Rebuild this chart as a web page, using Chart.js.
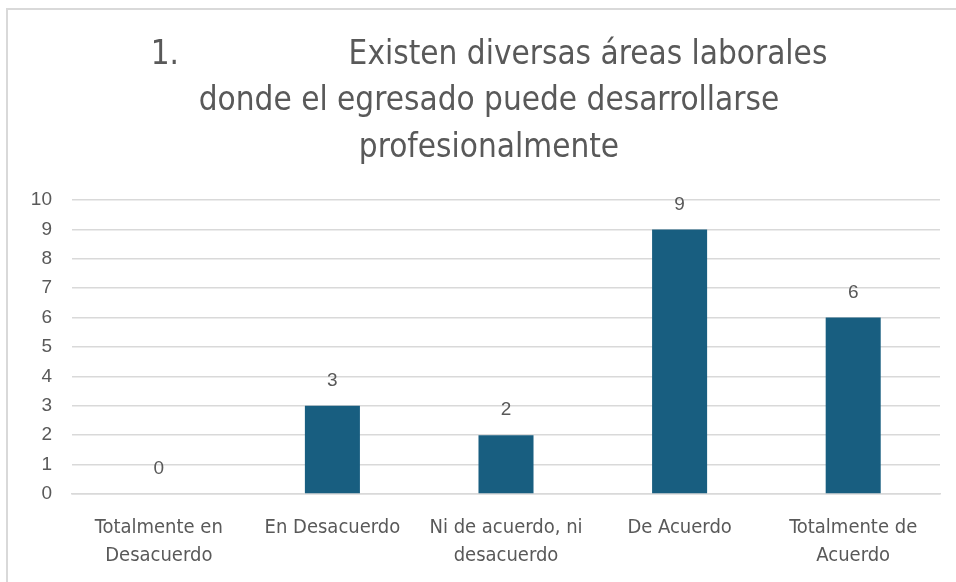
<!DOCTYPE html>
<html>
<head>
<meta charset="utf-8">
<script src="https://cdn.jsdelivr.net/npm/chart.js@4.4.1/dist/chart.umd.min.js"></script>
<style>
  html, body { margin: 0; padding: 0; background: #fff; overflow: hidden; }
  #wrap { position: relative; width: 956px; height: 582px; }
  #frame {
    position: absolute; left: 6px; top: 8px; width: 980px; height: 600px;
    border: 2px solid #d9d9d9; pointer-events: none;
  }
</style>
</head>
<body>
<div id="wrap">
  <canvas id="chart" width="956" height="582"></canvas>
  <div id="frame"></div>
</div>
<script>
// ===== Data =====
const titleLines = [
  "1.                  Existen diversas áreas laborales",
  "donde el egresado puede desarrollarse",
  "profesionalmente",
];
const categories = [
  ["Totalmente en", "Desacuerdo"],
  "En Desacuerdo",
  ["Ni de acuerdo, ni", "desacuerdo"],
  "De Acuerdo",
  ["Totalmente de", "Acuerdo"],
];
const counts = [0, 3, 2, 9, 6];
const yTicks = [0, 1, 2, 3, 4, 5, 6, 7, 8, 9, 10];

const narrow = "'Liberation Sans Narrow', 'Arial Narrow', 'DejaVu Sans Condensed', sans-serif";
const sans = "'Liberation Sans', Arial, sans-serif";
const textGray = "#595959";

// ===== Title (drawn a bit right of canvas centre, like the original) =====
const titleBlock = {
  id: "titleBlock",
  afterDraw(chart) {
    const ctx = chart.ctx;
    ctx.save();
    ctx.font = "33px " + narrow;
    ctx.fillStyle = textGray;
    ctx.textAlign = "center";
    ctx.textBaseline = "middle";
    titleLines.forEach((line, i) => {
      ctx.fillText(line, 489, 55 + i * 46.5);
    });
    ctx.restore();
  },
};

// ===== Value labels above bars =====
const valueLabels = {
  id: "valueLabels",
  afterDatasetsDraw(chart) {
    const ctx = chart.ctx;
    const meta = chart.getDatasetMeta(0);
    ctx.save();
    ctx.font = "19px " + sans;
    ctx.fillStyle = textGray;
    ctx.textAlign = "center";
    ctx.textBaseline = "middle";
    meta.data.forEach((bar, i) => {
      ctx.fillText(String(counts[i]), bar.x, bar.y - 25);
    });
    ctx.restore();
  },
};

new Chart(document.getElementById("chart"), {
  type: "bar",
  data: {
    labels: categories,
    datasets: [
      {
        data: counts,
        backgroundColor: "#185e80",
        categoryPercentage: 1,
        barPercentage: 0.317,
      },
    ],
  },
  options: {
    responsive: false,
    animation: false,
    layout: { padding: { left: 0, right: 16, top: 200, bottom: 0 } },
    plugins: {
      legend: { display: false },
      tooltip: { enabled: false },
      title: { display: false },
    },
    scales: {
      x: {
        grid: { display: false },
        border: { color: "#d9d9d9", width: 1.5 },
        ticks: {
          color: textGray,
          font: { family: narrow, size: 20, lineHeight: 1.4 },
          maxRotation: 0,
          autoSkip: false,
          padding: 12,
        },
        afterFit: (s) => { s.height = 88; },
      },
      y: {
        min: 0,
        max: 10,
        afterBuildTicks: (s) => { s.ticks = yTicks.map((v) => ({ value: v })); },
        grid: { color: "#d9d9d9", lineWidth: 1.5, drawTicks: false },
        border: { display: false },
        ticks: {
          color: textGray,
          font: { family: sans, size: 19 },
          padding: 20,
        },
        afterFit: (s) => { s.width = 72; },
      },
    },
  },
  plugins: [valueLabels, titleBlock],
});
</script>
</body>
</html>
